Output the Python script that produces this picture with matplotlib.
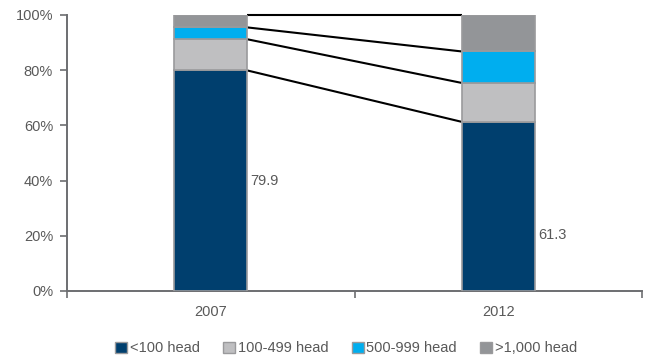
import matplotlib
matplotlib.use('Agg')
import matplotlib.pyplot as plt
import numpy as np

plt.rcParams['font.family'] = ['Liberation Sans', 'DejaVu Sans']

years = ['2007', '2012']
series_names = ['<100 head', '100-499 head', '500-999 head', '>1,000 head']
under_100 = [79.9, 61.3]
head_100_499 = [11.3, 14.1]
head_500_999 = [4.3, 11.4]
over_1000 = [4.5, 13.2]
colors = ['#003F6E', '#BFBFC1', '#00AEEF', '#939598']

series = [under_100, head_100_499, head_500_999, over_1000]
x = np.arange(len(years))
width = 0.255
text_col = '#595959'

fig = plt.figure(figsize=(6.45, 3.56), dpi=100)
ax = fig.add_axes([67 / 645, 65 / 356, 575 / 645, 276 / 356])

# stacked bars
bottom = np.zeros(len(years))
tops = []
for vals, col in zip(series, colors):
    ax.bar(x, vals, width, bottom=bottom, color=col, edgecolor='#9A9A9C',
           linewidth=1.2, zorder=3)
    bottom = bottom + np.array(vals)
    tops.append(bottom.copy())

# connector lines between segment tops
for t in tops:
    ax.plot([x[0] + width / 2, x[1] - width / 2], [t[0], t[1]],
            color='black', lw=1.5, zorder=2, solid_capstyle='butt', clip_on=False)

# value labels for the <100 head share
ax.text(x[0] + width / 2 + 0.01, under_100[0] / 2, f'{under_100[0]:.1f}',
        va='center', ha='left', fontsize=10.5, color=text_col)
ax.text(x[1] + width / 2 + 0.01, 20.3, f'{under_100[1]:.1f}',
        va='center', ha='left', fontsize=10.5, color=text_col)

ax.set_xlim(-0.5, 1.5)
ax.set_ylim(0, 100)
ax.set_yticks(np.arange(0, 101, 20))
ax.set_yticklabels([f'{v}%' for v in range(0, 101, 20)])
ax.set_xticks([-0.5, 0.5, 1.5], minor=False)
ax.set_xticklabels([])
ax.set_xticks(x, minor=True)
ax.set_xticklabels(years, minor=True)
ax.tick_params(axis='x', which='major', direction='out', length=5, color='#6D6E71', width=1.2)
ax.tick_params(axis='x', which='minor', length=0, pad=10, labelsize=10.5, labelcolor=text_col)
ax.tick_params(axis='y', direction='out', length=5, color='#6D6E71', width=1.2,
               labelsize=10.5, labelcolor=text_col, pad=5)
for side in ['top', 'right']:
    ax.spines[side].set_visible(False)
for side in ['left', 'bottom']:
    ax.spines[side].set_color('#6D6E71')
    ax.spines[side].set_linewidth(1.4)

handles = [plt.Rectangle((0, 0), 1, 1, facecolor=c, edgecolor='#9A9A9C', linewidth=1.0)
           for c in colors]
fig.legend(handles, series_names, loc='lower center', ncol=4, frameon=False,
           bbox_to_anchor=(0.537, -0.035), fontsize=10.5, labelcolor=text_col,
           handlelength=0.8, handleheight=0.8, handletextpad=0.2, columnspacing=1.6)

fig.savefig('out.png', dpi=100)
